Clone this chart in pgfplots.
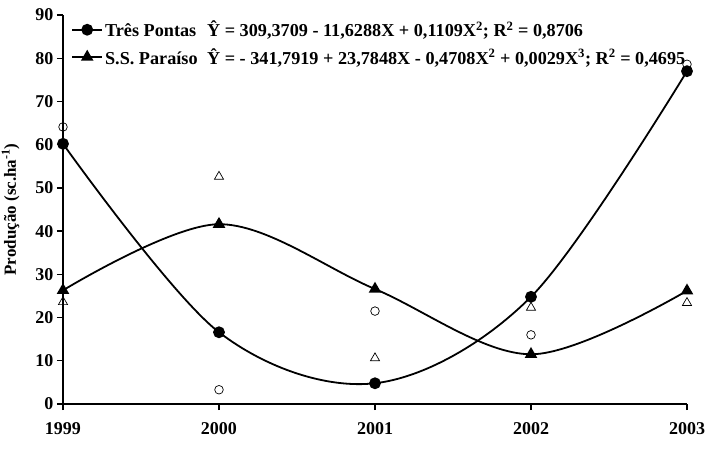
\documentclass[border=0pt]{standalone}
\usepackage{fontspec}
\setmainfont{Liberation Serif}
\usepackage{pgfplots}
\pgfplotsset{compat=1.18}
\begin{document}
\begin{tikzpicture}[font=\fontsize{18}{21}\selectfont\bfseries]
\begin{axis}[
  scale only axis, width=624pt, height=389pt,
  xmin=1999, xmax=2003, ymin=0, ymax=90,
  axis x line=bottom, axis y line=left,
  axis line style={-, line width=1.8pt},
  xtick={1999,2000,2001,2002,2003},
  xticklabels={1999,2000,2001,2002,2003},
  ytick={0,10,...,90},
  tick align=outside, major tick length=6pt,
  tick style={line width=1.4pt, black},
  /pgf/number format/assume math mode=true,
  ticklabel style={font=\fontsize{18}{21}\selectfont\bfseries},
  xticklabel style={yshift=-9pt},
  ylabel={Produção (sc.ha\textsuperscript{-1})},
  ylabel style={font=\fontsize{17}{20}\selectfont\bfseries},
  ylabel shift=9pt,
  clip=false,
  legend style={at={(0.013,0.99)}, anchor=north west, draw=none, fill=none,
    font=\fontsize{18.2}{20}\selectfont\bfseries, row sep=6pt, inner sep=0pt},
  legend cell align=left,
  legend image code/.code={\draw[mark repeat=2,mark phase=2] plot coordinates {(0pt,0pt)(15pt,0pt)(30pt,0pt)};},
]
\coordinate (sw) at (rel axis cs:0,0);
\coordinate (ne) at (rel axis cs:1,1);
% fitted curves
\addplot[black, line width=1.8pt, smooth, tension=0.55, mark=*, mark size=5pt, mark options={solid, fill=black}]
  coordinates {(1999,60.2) (2000,16.6) (2001,4.8) (2002,24.8) (2003,77.0)};
\addlegendentry{\makebox[102pt][l]{Três Pontas}\^{Y} = 309,3709 - 11,6288X + 0,1109X\textsuperscript{2}; R\textsuperscript{2} = 0,8706}
\addplot[black, line width=1.8pt, smooth, tension=0.55, mark=triangle*, mark size=5.5pt, mark options={solid, fill=black}]
  coordinates {(1999,26.3) (2000,41.6) (2001,26.6) (2002,11.5) (2003,26.2)};
\addlegendentry{\makebox[102pt][l]{S.S. Paraíso}\^{Y} = - 341,7919 + 23,7848X - 0,4708X\textsuperscript{2} + 0,0029X\textsuperscript{3}; R\textsuperscript{2} = 0,4695}
% observed
\addplot[only marks, mark=o, mark size=4.3pt, mark options={line width=0.7pt, black}, forget plot]
  coordinates {(1999,64.1) (2000,3.3) (2001,21.5) (2002,16.0) (2003,78.6)};
\addplot[only marks, mark=triangle, mark size=5.3pt, mark options={line width=0.7pt, black}, forget plot]
  coordinates {(1999,23.6) (2000,52.6) (2001,10.6) (2002,22.3) (2003,23.4)};
\end{axis}
\pgfresetboundingbox
\path[use as bounding box] ([xshift=-63pt,yshift=-54pt]sw) rectangle ([xshift=31pt,yshift=15pt]ne);
\end{tikzpicture}
\end{document}
